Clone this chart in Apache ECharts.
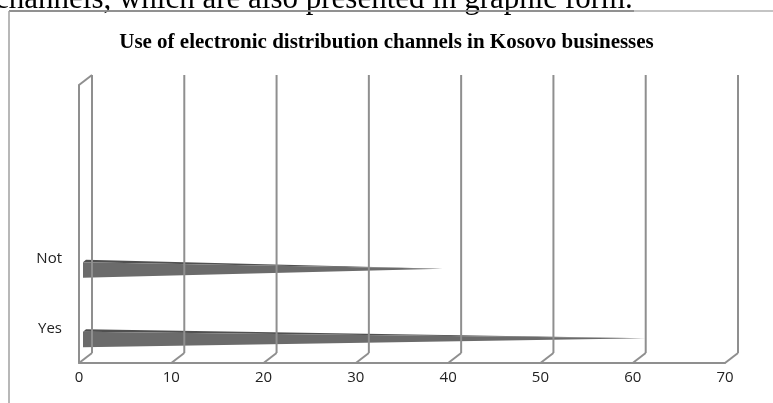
<!DOCTYPE html>
<html>
<head>
<meta charset="utf-8">
<script src="https://cdn.jsdelivr.net/npm/echarts@6/dist/echarts.min.js"></script>
<style>
html,body{margin:0;padding:0;background:#fff;}
#c{width:773px;height:403px;}
</style>
</head>
<body>
<div id="c"></div>
<script>
var titleText = 'Use of electronic distribution channels in Kosovo businesses';
var pageText = 'channels, which are also presented in graphic form.';
var categories = ['Yes', 'Not', '', ''];
var values = [61, 39, null, null];
var tickValues = [0, 10, 20, 30, 40, 50, 60, 70];

var DX = 13, DY = 10;
var wallColor = '#8f8f8f';

var chart = echarts.init(document.getElementById('c'));

function wallItem(params, api) {
  var v = api.value(0);
  var cs = params.coordSys;
  var px = api.coord([v, 0])[0];
  var top = cs.y, bottom = cs.y + cs.height;
  var style = {stroke: wallColor, lineWidth: 2, fill: null};
  var children = [
    {type: 'line', shape: {x1: px + DX, y1: top - DY, x2: px + DX, y2: bottom - DY}, style: style},
    {type: 'line', shape: {x1: px, y1: bottom, x2: px + DX, y2: bottom - DY}, style: style}
  ];
  if (v === 0) {
    children.push({type: 'line', shape: {x1: px, y1: top, x2: px + DX, y2: top - DY}, style: style});
  }
  return {type: 'group', children: children};
}

function coneItem(params, api) {
  var v = api.value(1);
  var ci = api.value(0);
  if (v == null || isNaN(v)) return null;
  var p0 = api.coord([0, ci]);
  var p1 = api.coord([v, ci]);
  var cy = p0[1];
  var x0 = p0[0] + 4;
  var tipX = p1[0] + 4;
  var yTop = cy + 1, yMid = cy + 3.5, yBot = cy + 19, yTip = cy + 10;
  return {
    type: 'group',
    children: [
      {type: 'polygon', shape: {points: [[x0 + 3, yTop], [x0, yMid], [tipX, yTip]]},
        style: {fill: '#505050'}},
      {type: 'polygon', shape: {points: [[x0, yMid], [x0, yBot], [tipX, yTip]]},
        style: {fill: '#6b6b6b'}}
    ]
  };
}

var coneData = categories.map(function (c, i) { return [i, values[i]]; });
var wallData = tickValues.map(function (t) { return [t, 0]; });

chart.setOption({
  animation: false,
  backgroundColor: '#fff',
  title: {
    text: titleText,
    left: 'center',
    top: 27,
    textStyle: {fontFamily: 'Liberation Serif', fontWeight: 'bold', fontSize: 21, color: '#000'}
  },
  graphic: [
    {type: 'text', left: -5, top: -16,
      style: {text: pageText, font: '31px "Liberation Serif"', fill: '#000'}},
    {type: 'line', shape: {x1: 9, y1: 11, x2: 773, y2: 11}, style: {stroke: '#b0b0b0', lineWidth: 1.5}},
    {type: 'line', shape: {x1: 9, y1: 11, x2: 634, y2: 11}, style: {stroke: '#808080', lineWidth: 1.5}},
    {type: 'line', shape: {x1: 9, y1: 11, x2: 9, y2: 403}, style: {stroke: '#a0a0a0', lineWidth: 1.5}}
  ],
  grid: {left: 79, right: 48, top: 85, bottom: 40, containLabel: false},
  xAxis: {
    type: 'value',
    min: 0, max: 70, interval: 10,
    axisLine: {show: true, lineStyle: {color: wallColor, width: 2}},
    axisTick: {show: false},
    splitLine: {show: false},
    axisLabel: {margin: 7, fontFamily: 'Open Sans', fontSize: 15, color: '#222'}
  },
  yAxis: {
    type: 'category',
    data: categories,
    axisLine: {show: true, lineStyle: {color: wallColor, width: 2}},
    axisTick: {show: false},
    splitLine: {show: false},
    axisLabel: {margin: 17, fontFamily: 'Open Sans', fontSize: 15, color: '#222'}
  },
  series: [
    {type: 'custom', renderItem: coneItem, data: coneData, encode: {x: 1, y: 0}, z: 2, silent: true},
    {type: 'custom', renderItem: wallItem, data: wallData, encode: {x: 0, y: 1}, z: 3, silent: true}
  ]
});
</script>
</body>
</html>
